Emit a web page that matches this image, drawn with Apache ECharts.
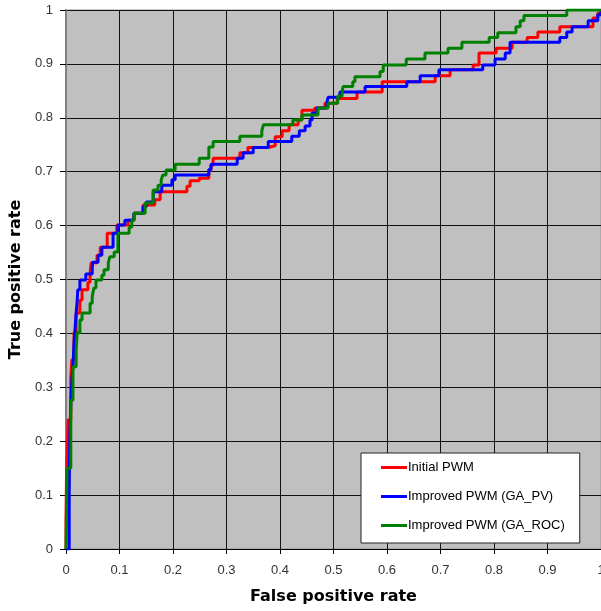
<!DOCTYPE html>
<html>
<head>
<meta charset="utf-8">
<script src="https://cdn.jsdelivr.net/npm/echarts@6/dist/echarts.min.js"></script>
<style>
  html, body { margin: 0; padding: 0; background: #fff; }
  #roc { width: 601px; height: 611px; }
</style>
</head>
<body>
<div id="roc"></div>
<script>
// series names
var seriesNames = ['Initial PWM', 'Improved PWM (GA_PV)', 'Improved PWM (GA_ROC)'];
var seriesColors = ['#ff0000', '#0000ff', '#008000'];

// Initial PWM (x = false positive rate where a level starts, y = true positive rate)
var initialFpr = [0, 0, 0.001, 0.004, 0.009, 0.011, 0.015, 0.019, 0.026, 0.030, 0.041, 0.045, 0.047, 0.058, 0.064, 0.077, 0.095, 0.116, 0.127, 0.144, 0.166, 0.176, 0.226, 0.232, 0.249, 0.267, 0.271, 0.275, 0.325, 0.340, 0.378, 0.391, 0.404, 0.417, 0.434, 0.441, 0.465, 0.484, 0.507, 0.544, 0.591, 0.690, 0.718, 0.761, 0.772, 0.804, 0.834, 0.862, 0.882, 0.923, 0.985, 0.994, 1];
var initialTpr = [0, 0.06, 0.14, 0.24, 0.319, 0.351, 0.401, 0.438, 0.462, 0.481, 0.495, 0.512, 0.531, 0.545, 0.560, 0.586, 0.601, 0.610, 0.623, 0.638, 0.648, 0.663, 0.673, 0.683, 0.688, 0.703, 0.712, 0.725, 0.735, 0.745, 0.748, 0.765, 0.776, 0.787, 0.796, 0.814, 0.818, 0.827, 0.836, 0.848, 0.867, 0.878, 0.889, 0.898, 0.920, 0.929, 0.940, 0.949, 0.959, 0.969, 0.985, 0.994, 1];

// Improved PWM (GA_PV)
var gaPvFpr = [0, 0.006, 0.007, 0.009, 0.011, 0.013, 0.015, 0.018, 0.021, 0.022, 0.026, 0.037, 0.049, 0.050, 0.060, 0.067, 0.088, 0.097, 0.110, 0.127, 0.144, 0.150, 0.163, 0.179, 0.198, 0.204, 0.267, 0.271, 0.320, 0.331, 0.350, 0.378, 0.422, 0.436, 0.447, 0.456, 0.460, 0.469, 0.488, 0.490, 0.512, 0.559, 0.637, 0.662, 0.697, 0.779, 0.802, 0.821, 0.830, 0.923, 0.936, 0.946, 0.976, 0.994, 1];
var gaPvTpr = [0, 0.10, 0.20, 0.27, 0.314, 0.338, 0.382, 0.425, 0.462, 0.481, 0.499, 0.510, 0.521, 0.532, 0.545, 0.560, 0.586, 0.601, 0.610, 0.623, 0.635, 0.644, 0.663, 0.675, 0.685, 0.694, 0.704, 0.714, 0.725, 0.735, 0.745, 0.756, 0.766, 0.776, 0.785, 0.796, 0.809, 0.818, 0.830, 0.838, 0.848, 0.858, 0.867, 0.878, 0.889, 0.898, 0.909, 0.920, 0.940, 0.949, 0.959, 0.969, 0.980, 0.991, 1];

// Improved PWM (GA_ROC)
var gaRocFpr = [0, 0.002, 0.009, 0.013, 0.019, 0.021, 0.026, 0.030, 0.045, 0.049, 0.052, 0.056, 0.067, 0.071, 0.079, 0.082, 0.090, 0.097, 0.118, 0.123, 0.127, 0.148, 0.163, 0.172, 0.178, 0.181, 0.187, 0.204, 0.249, 0.267, 0.275, 0.325, 0.366, 0.369, 0.424, 0.441, 0.471, 0.490, 0.508, 0.516, 0.518, 0.536, 0.540, 0.587, 0.593, 0.636, 0.671, 0.714, 0.740, 0.791, 0.807, 0.841, 0.849, 0.856, 0.936, 1];
var gaRocTpr = [0, 0.15, 0.276, 0.338, 0.369, 0.401, 0.425, 0.438, 0.456, 0.468, 0.484, 0.499, 0.508, 0.518, 0.531, 0.542, 0.551, 0.586, 0.597, 0.610, 0.623, 0.642, 0.666, 0.675, 0.685, 0.694, 0.703, 0.714, 0.725, 0.746, 0.756, 0.766, 0.776, 0.787, 0.796, 0.805, 0.818, 0.827, 0.840, 0.848, 0.858, 0.867, 0.876, 0.886, 0.898, 0.909, 0.920, 0.929, 0.940, 0.949, 0.958, 0.969, 0.980, 0.990, 1.0, 1];

function pairs(xs, ys) {
    var out = [];
    for (var i = 0; i < xs.length; i++) {
        out.push([xs[i], ys[i]]);
    }
    return out;
}

var curves = [
    pairs(initialFpr, initialTpr),
    pairs(gaPvFpr, gaPvTpr),
    pairs(gaRocFpr, gaRocTpr)
];

var labelFont = 'Arial, "Liberation Sans", sans-serif';
var titleFont = '"DejaVu Sans", Arial, sans-serif';

var series = [];
for (var s = 0; s < curves.length; s++) {
    series.push({
        name: seriesNames[s],
        type: 'line',
        step: 'end',
        data: curves[s],
        showSymbol: false,
        symbol: 'none',
        lineStyle: {color: seriesColors[s], width: 3},
        itemStyle: {color: seriesColors[s]}
    });
}

var tickFormat = function (v) { return String(Math.round(v * 10) / 10); };

var myChart = echarts.init(document.getElementById('roc'));
myChart.setOption({
    animation: false,
    grid: {
        left: 66,
        top: 10,
        right: 0,
        bottom: 62,
        outerBoundsMode: 'none',
        show: true,
        backgroundColor: '#c0c0c0',
        borderColor: '#999999',
        borderWidth: 1
    },
    legend: {
        data: seriesNames,
        orient: 'vertical',
        left: 361,
        top: 453,
        backgroundColor: '#ffffff',
        borderColor: '#222222',
        borderWidth: 1,
        padding: [8, 15, 11, 20],
        itemGap: 16,
        itemWidth: 26,
        itemHeight: 3,
        icon: 'rect',
        textStyle: {fontFamily: labelFont, fontSize: 13, color: '#000', padding: [0, 0, 0, -4]}
    },
    xAxis: {
        type: 'value',
        min: 0,
        max: 1,
        interval: 0.1,
        name: 'False positive rate',
        nameLocation: 'middle',
        nameGap: 40,
        nameTextStyle: {fontFamily: titleFont, fontSize: 16, fontWeight: 'bold', color: '#000'},
        axisLine: {show: true, lineStyle: {color: '#000', width: 1}},
        axisTick: {show: true, length: 5, lineStyle: {color: '#000'}},
        axisLabel: {margin: 15, fontFamily: labelFont, fontSize: 13, color: '#333', formatter: tickFormat},
        splitLine: {show: true, lineStyle: {color: '#111', width: 1}}
    },
    yAxis: {
        type: 'value',
        min: 0,
        max: 1,
        interval: 0.1,
        name: 'True positive rate',
        nameLocation: 'middle',
        nameGap: 37,
        nameTextStyle: {fontFamily: titleFont, fontSize: 16, fontWeight: 'bold', color: '#000'},
        axisLine: {show: true, lineStyle: {color: '#808080', width: 2}},
        axisTick: {show: true, length: 6, lineStyle: {color: '#000'}},
        axisLabel: {margin: 13, fontFamily: labelFont, fontSize: 13, color: '#333', formatter: tickFormat},
        splitLine: {show: true, lineStyle: {color: '#111', width: 1}}
    },
    series: series
});
</script>
</body>
</html>
